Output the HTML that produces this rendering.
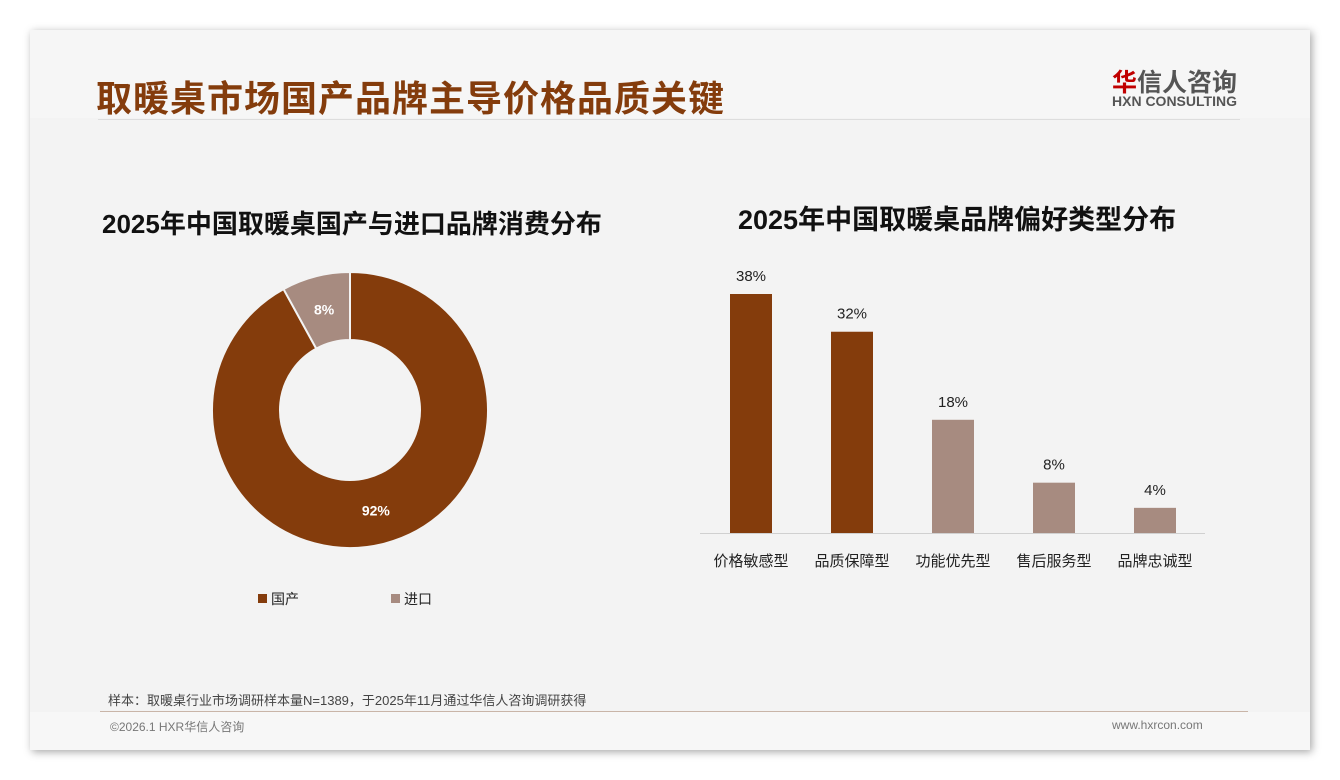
<!DOCTYPE html>
<html><head><meta charset="utf-8"><style>
body{margin:0;width:1340px;height:780px;background:#fff;font-family:"Liberation Sans","Noto Sans CJK SC",sans-serif;position:relative;overflow:hidden}
.card{position:absolute;left:30px;top:30px;width:1280px;height:720px;background:#f3f3f3;box-shadow:2px 2px 8px rgba(0,0,0,.35)}
.abs{position:absolute;white-space:nowrap}
</style></head><body>
<div class="card">
  <div class="abs" style="left:0;top:0;width:1280px;height:88px;background:#f6f6f6"></div>
  <div class="abs" style="left:66px;top:40px;font-size:36px;font-weight:bold;color:#843c0c;letter-spacing:1px">取暖桌市场国产品牌主导价格品质关键</div>
  <div class="abs" style="left:1082px;top:33px;font-size:25px;font-weight:bold;color:#555"><span style="color:#c00000">华</span>信人咨询</div>
  <div class="abs" style="left:1082px;top:63px;font-size:14px;font-weight:bold;color:#555">HXN CONSULTING</div>
  <div class="abs" style="left:68px;top:89px;width:1142px;height:1px;background:#ddd"></div>
  <div class="abs" style="left:72px;top:174px;font-size:26px;font-weight:bold;color:#111">2025年中国取暖桌国产与进口品牌消费分布</div>
  <div class="abs" style="left:708px;top:168px;font-size:27px;font-weight:bold;color:#111">2025年中国取暖桌品牌偏好类型分布</div>
  <div class="abs" style="left:78px;top:660px;font-size:13px;color:#444">样本：取暖桌行业市场调研样本量N=1389，于2025年11月通过华信人咨询调研获得</div>
  <div class="abs" style="left:70px;top:681px;width:1148px;height:1px;background:#c9b5a8"></div>
  <div class="abs" style="left:0;top:682px;width:1280px;height:38px;background:#f7f7f7"></div>
  <div class="abs" style="left:80px;top:688px;font-size:12px;color:#777">©2026.1 HXR华信人咨询</div>
  <div class="abs" style="left:1082px;top:688px;font-size:12px;color:#777">www.hxrcon.com</div>
</div>
<svg id="chart" width="1340" height="780" style="position:absolute;left:0;top:0"></svg>
<script>
const donutLabels=["国产","进口"];
const donutValues=[92,8];
const barCats=["价格敏感型","品质保障型","功能优先型","售后服务型","品牌忠诚型"];
const barValues=[38,32,18,8,4];
const barColorsIdx=[0,0,1,1,1];
const NS="http://www.w3.org/2000/svg";
const svg=document.getElementById('chart');
const colors=["#843c0c","#a78b80"];
function mk(t,a,txt){const e=document.createElementNS(NS,t);for(const k in a)e.setAttribute(k,a[k]);if(txt!=null)e.textContent=txt;svg.appendChild(e);return e;}
const cx=350,cy=410,R=138,r=70;
const tot=donutValues.reduce((a,b)=>a+b,0);
let start=0;
donutValues.forEach((v,i)=>{
  const a0=start/tot*2*Math.PI,a1=(start+v)/tot*2*Math.PI;
  const p=(rad,a)=>[cx+rad*Math.sin(a),cy-rad*Math.cos(a)];
  const [x0,y0]=p(R,a0),[x1,y1]=p(R,a1),[x2,y2]=p(r,a1),[x3,y3]=p(r,a0);
  const lg=(a1-a0)>Math.PI?1:0;
  const path=mk('path',{d:`M${x0},${y0}A${R},${R} 0 ${lg} 1 ${x1},${y1}L${x2},${y2}A${r},${r} 0 ${lg} 0 ${x3},${y3}Z`,fill:colors[i],stroke:"#f3f3f3","stroke-width":2});
  
  
  const am=(a0+a1)/2,[lx,ly]=p(104,am);
  const t=mk('text',{x:lx,y:ly+5,'text-anchor':'middle','font-size':14,'font-weight':'bold',fill:'#fff'},v+'%');
  
  
  start+=v;
});
donutLabels.forEach((l,i)=>{
  const x=258+i*133;
  const s=mk('rect',{x:x,y:594,width:9,height:9,fill:colors[i]});
  
  
  const t=mk('text',{x:x+13,y:604,'font-size':14,fill:'#222'},l);
  
  
});
const base=533,scale=239/38,x0b=751,step=101,bw=42;
const yv=v=>base-v*scale;
const ax=mk('line',{x1:700,y1:base+0.5,x2:1205,y2:base+0.5,stroke:'#d0d0d0'});


barCats.forEach((c,i)=>{
  const cxb=x0b+i*step,v=barValues[i];
  const b=mk('rect',{x:cxb-bw/2,y:yv(v),width:bw,height:base-yv(v),fill:colors[barColorsIdx[i]]});
  
  
  const t=mk('text',{x:cxb,y:yv(v)-13,'text-anchor':'middle','font-size':15,fill:'#222'},v+'%');
  
  
  const l=mk('text',{x:cxb,y:566,'text-anchor':'middle','font-size':15,fill:'#222'},c);
  
  
});
</script>
</body></html>
